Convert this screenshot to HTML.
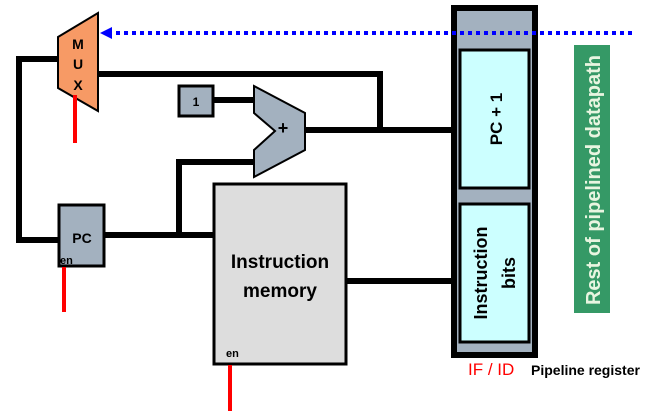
<!DOCTYPE html>
<html><head><meta charset="utf-8"><style>
html,body{margin:0;padding:0;background:#fff;width:666px;height:415px;overflow:hidden}
text{font-family:"Liberation Sans",sans-serif}
</style></head><body>
<svg width="666" height="415" viewBox="0 0 666 415" xmlns="http://www.w3.org/2000/svg">
<g stroke="#000" stroke-width="6" fill="none">
<polyline points="58,59 19,59 19,240 58,240"/>
<polyline points="98,74 380,74 380,130"/>
<line x1="305" y1="130" x2="452" y2="130"/>
<line x1="213" y1="100" x2="256" y2="100"/>
<line x1="105" y1="235" x2="213" y2="235"/>
<polyline points="179,235 179,162 256,162"/>
<line x1="346" y1="281" x2="452" y2="281"/>
</g>
<rect x="454" y="8" width="81" height="347" fill="#a3b1bf" stroke="#000" stroke-width="6"/>
<rect x="460" y="50" width="69" height="138" fill="#ccffff" stroke="#000" stroke-width="3"/>
<rect x="460" y="204" width="69" height="138" fill="#ccffff" stroke="#000" stroke-width="3"/>
<text transform="translate(502,119) rotate(-90)" text-anchor="middle" font-size="17" font-weight="bold" fill="#000">PC + 1</text>
<text transform="translate(487,273) rotate(-90)" text-anchor="middle" font-size="18" font-weight="bold" fill="#000">Instruction</text>
<text transform="translate(515,273) rotate(-90)" text-anchor="middle" font-size="18" font-weight="bold" fill="#000">bits</text>
<line x1="108" y1="33" x2="632" y2="33" stroke="#0000ff" stroke-width="4" stroke-dasharray="4,4"/>
<polygon points="100,33 112,27 112,39" fill="#0000ff"/>
<rect x="574" y="45" width="36" height="268" fill="#359966"/>
<text transform="translate(600,180) rotate(-90)" text-anchor="middle" font-size="20" font-weight="bold" fill="#e8f5e0">Rest of pipelined datapath</text>
<polygon points="58,37 98,13 98,111 58,88" fill="#f79a65" stroke="#000" stroke-width="2"/>
<text x="78" y="49" text-anchor="middle" font-size="14" font-weight="bold" fill="#000">M</text>
<text x="78" y="69" text-anchor="middle" font-size="14" font-weight="bold" fill="#000">U</text>
<text x="78" y="90" text-anchor="middle" font-size="14" font-weight="bold" fill="#000">X</text>
<line x1="75" y1="95" x2="75" y2="143" stroke="#ff0000" stroke-width="4"/>
<rect x="179" y="86" width="34" height="30" fill="#a3b1bf" stroke="#000" stroke-width="3"/>
<text x="196" y="106" text-anchor="middle" font-size="12" font-weight="bold" fill="#000">1</text>
<polygon points="254,86 305,113 305,150 254,177 254,150 275,131 254,113" fill="#a3b1bf" stroke="#000" stroke-width="2"/>
<text x="283" y="134" text-anchor="middle" font-size="18" font-weight="bold" fill="#000">+</text>
<rect x="59" y="205" width="45" height="61" fill="#a3b1bf" stroke="#000" stroke-width="3"/>
<text x="82" y="243" text-anchor="middle" font-size="14" font-weight="bold" fill="#000">PC</text>
<text x="60" y="264" font-size="11" font-weight="bold" fill="#000">en</text>
<line x1="64" y1="267" x2="64" y2="312" stroke="#ff0000" stroke-width="4"/>
<rect x="214" y="184" width="132" height="180" fill="#dddddd" stroke="#000" stroke-width="3"/>
<text x="280" y="268" text-anchor="middle" font-size="19" font-weight="bold" fill="#000">Instruction</text>
<text x="280" y="297" text-anchor="middle" font-size="19" font-weight="bold" fill="#000">memory</text>
<text x="226" y="357" font-size="11" font-weight="bold" fill="#000">en</text>
<line x1="230" y1="365" x2="230" y2="411" stroke="#ff0000" stroke-width="4"/>
<text x="468" y="375" font-size="17" fill="#ff0000">IF / ID</text>
<text x="531" y="375" font-size="14" font-weight="bold" fill="#000">Pipeline register</text>
</svg>
</body></html>
